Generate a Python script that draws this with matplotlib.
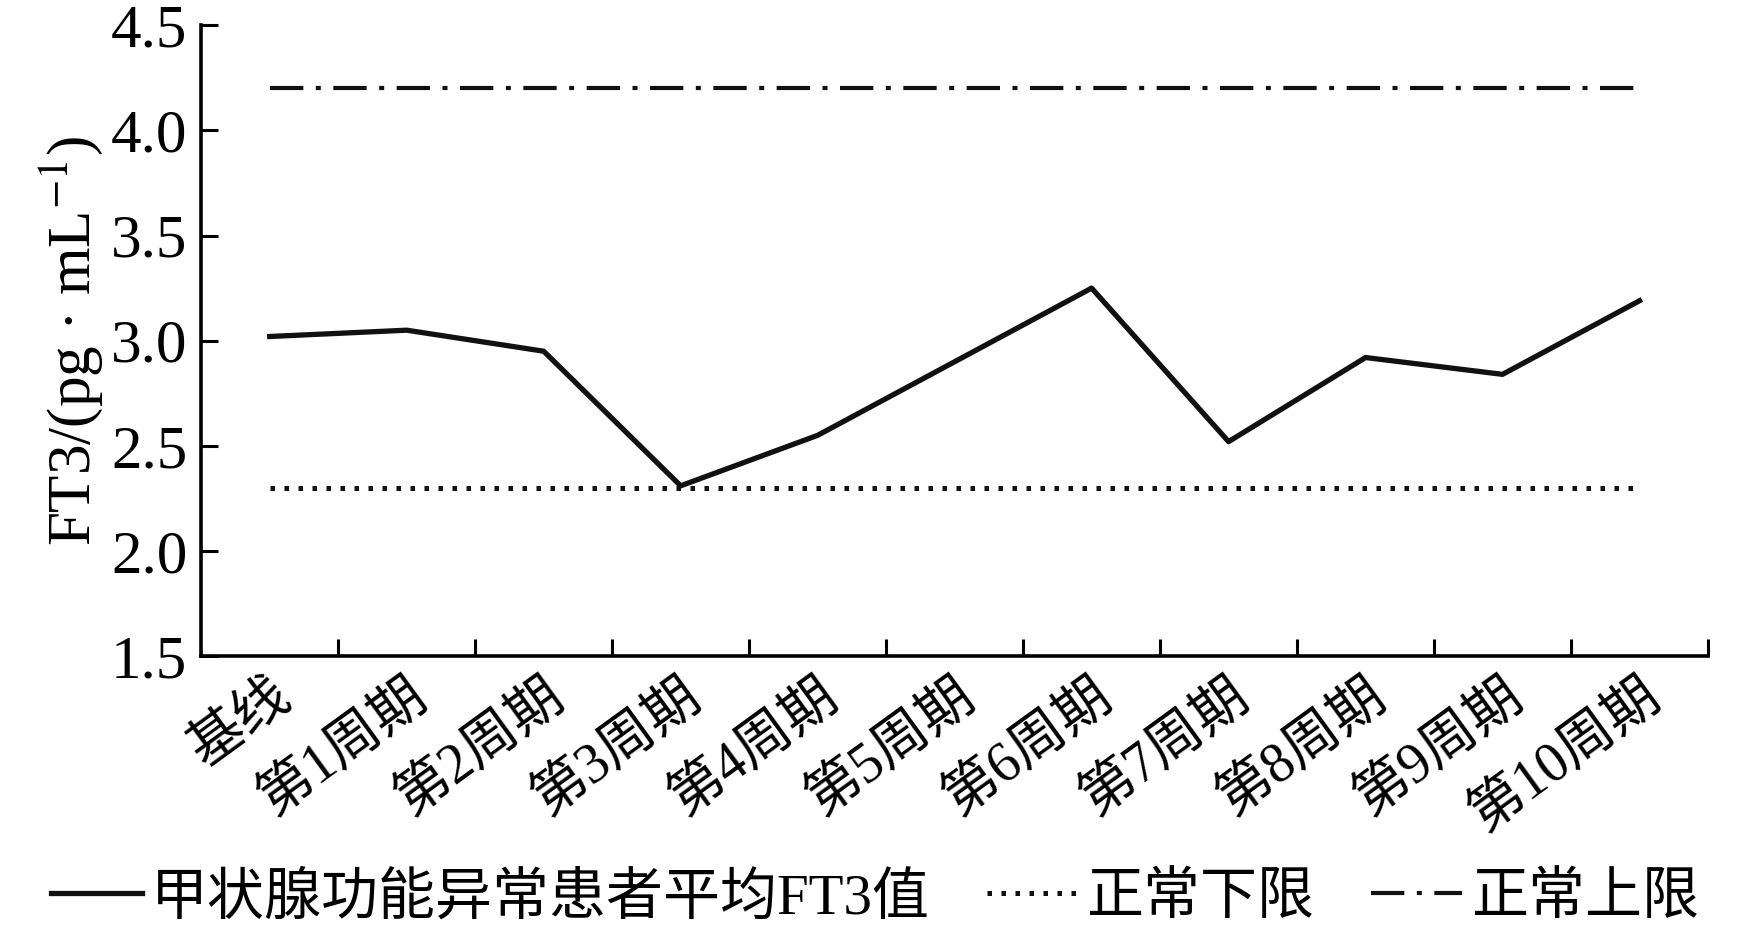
import matplotlib
matplotlib.use("Agg")
import matplotlib.pyplot as plt
import numpy as np

plt.rcParams['font.family'] = ['Liberation Serif', 'Noto Sans CJK SC']
plt.rcParams['mathtext.fontset'] = 'stix'

# data
categories = ['基线', '第1周期', '第2周期', '第3周期', '第4周期', '第5周期',
              '第6周期', '第7周期', '第8周期', '第9周期', '第10周期']
ft3_mean = [3.02, 3.05, 2.95, 2.31, 2.55, 2.90, 3.25, 2.52, 2.92, 2.84, 3.19]
lower_limit = 2.3
upper_limit = 4.2
y_ticks = [1.5, 2.0, 2.5, 3.0, 3.5, 4.0, 4.5]

fig = plt.figure(figsize=(17.5, 9.36), dpi=100)
ax = fig.add_axes([0.115, 0.299, 0.861, 0.674])

x = np.arange(len(categories))
ax.plot(x, ft3_mean, '-', color='#111111', lw=3.8, label='甲状腺功能异常患者平均FT3值')
ax.plot(x, [lower_limit] * len(x), color='#111111', lw=3.6,
        linestyle=(0, (0.9, 1.9)), label='正常下限')
ax.plot(x, [upper_limit] * len(x), color='#111111', lw=3.0,
        linestyle=(0, (8, 3, 1.2, 3)), label='正常上限')

ax.set_xlim(-0.5, len(categories) - 0.5)
ax.set_ylim(1.5, 4.5)
ax.set_yticks(y_ticks)
ax.set_yticklabels(['%.1f' % v for v in y_ticks], fontsize=44)

ax.set_xticks(x)
ax.set_xticklabels(categories, fontsize=40, rotation=36, ha='right',
                   rotation_mode='anchor')
ax.set_xticks(np.arange(0.5, len(categories), 1.0), minor=True)
ax.tick_params(axis='x', which='major', length=0, pad=10)
ax.tick_params(axis='x', which='minor', direction='in', length=12, width=2.2)
ax.tick_params(axis='y', direction='in', length=12, width=2.2, pad=10)

for s in ['top', 'right']:
    ax.spines[s].set_visible(False)
for s in ['left', 'bottom']:
    ax.spines[s].set_linewidth(2.6)

ax.set_ylabel('FT3/(pg · mL$^{-1}$)', fontsize=44, labelpad=4)

fig.legend(loc='center', bbox_to_anchor=(0.5, 0.04), ncol=3,
           frameon=False, fontsize=41, handlelength=1.6, handletextpad=0.15,
           columnspacing=1.0)

fig.savefig('out.png', dpi=100)
